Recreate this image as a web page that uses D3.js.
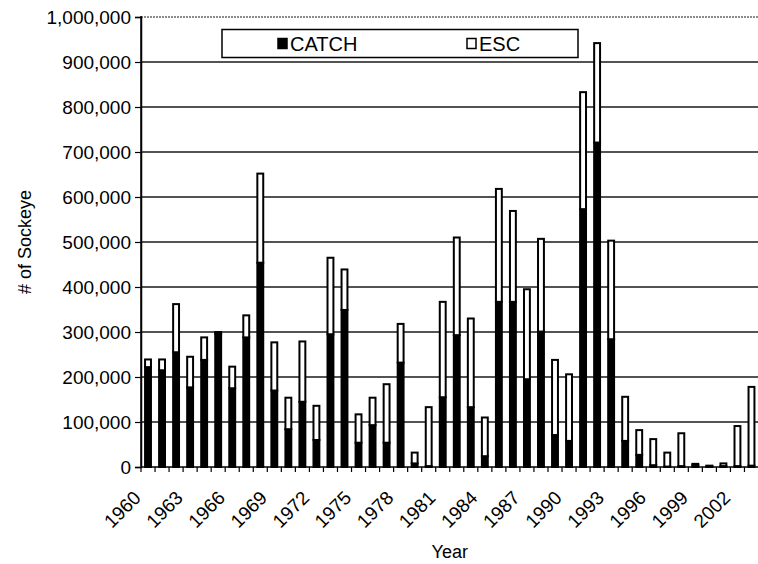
<!DOCTYPE html>
<html>
<head>
<meta charset="utf-8">
<script src="https://cdn.jsdelivr.net/npm/d3@7"></script>
<style>
  html, body { margin: 0; padding: 0; background: #fff; }
  svg { display: block; }
  text { font-family: "Liberation Sans", Arial, Helvetica, sans-serif; fill: #000; }
</style>
</head>
<body>
<svg id="chart" width="758" height="564"></svg>
<script>
// ---- Data ----
const years = d3.range(1960, 2004);
const catchVals = [
  222000, 215000, 255000, 177000, 238000, 296000, 175000, 288000, 454000, 170000,
   84000, 145000,  60000, 295000, 349000,  54000,  93000,  54000, 232000,   8000,
    2000, 155000, 293000, 133000,  24000, 367000, 367000, 195000, 301000,  71000,
   58000, 573000, 721000, 284000,  58000,  27000,   4000,   1000,   2000,   4000,
    2000,   2000,   2000,   3000
];
const escVals = [
   17000,  24000, 107000,  68000,  50000,   4000,  48000,  49000, 198000, 107000,
   70000, 134000,  76000, 170000,  90000,  63000,  61000, 130000,  86000,  24000,
  131000, 212000, 217000, 197000,  86000, 251000, 202000, 200000, 206000, 167000,
  148000, 260000, 221000, 219000,  98000,  55000,  58000,  31000,  73000,   3000,
    1000,   6000,  89000, 175000
];
const seriesNames = ["CATCH", "ESC"];
const yTickValues = [0, 100000, 200000, 300000, 400000, 500000, 600000, 700000, 800000, 900000, 1000000];
const xLabelYears = years.filter(y => (y - 1960) % 3 === 0);

// ---- Layout ----
const svg = d3.select("#chart");
const plot = { left: 141, right: 758.5, top: 17, bottom: 467 };

const x = d3.scaleBand().domain(years).range([plot.left, plot.right]).paddingInner(0.58).paddingOuter(0.29);
const xStep = d3.scaleBand().domain(years).range([plot.left, plot.right]);
const y = d3.scaleLinear().domain([0, 1000000]).range([plot.bottom, plot.top]);

const rows = years.map((yr, i) => ({ year: yr, CATCH: catchVals[i], ESC: escVals[i] }));
const stacked = d3.stack().keys(seriesNames)(rows);

// gridlines
svg.append("g")
  .selectAll("line")
  .data(yTickValues.filter(v => v > 0))
  .join("line")
  .attr("x1", plot.left).attr("x2", plot.right)
  .attr("y1", d => y(d)).attr("y2", d => y(d))
  .attr("stroke", "#1a1a1a")
  .attr("stroke-width", d => d === 1000000 ? 1.2 : 1.3)
  .attr("stroke-dasharray", d => d === 1000000 ? "2,1" : null);

// bars
const fills = { CATCH: "#000", ESC: "#fff" };
svg.append("g")
  .selectAll("g")
  .data(stacked)
  .join("g")
  .attr("fill", d => fills[d.key])
  .selectAll("rect")
  .data(d => d.map(p => ({ p, key: d.key })))
  .join("rect")
  .attr("x", d => x(d.p.data.year))
  .attr("width", x.bandwidth())
  .attr("y", d => y(d.p[1]))
  .attr("height", d => Math.max(0, y(d.p[0]) - y(d.p[1])))
  .attr("stroke", "#000")
  .attr("stroke-width", 2);

// y axis
const yAxis = svg.append("g")
  .attr("transform", `translate(${plot.left},0)`)
  .call(d3.axisLeft(y).tickValues(yTickValues).tickFormat(d3.format(",")).tickSize(6).tickPadding(4));
yAxis.select(".domain").attr("stroke", "#000").attr("stroke-width", 1.5);
yAxis.selectAll(".tick line").attr("stroke", "#000").attr("stroke-width", 1.2);
yAxis.selectAll(".tick text").style("font-size", "19px").attr("fill", "#000");

// x axis
const xAxisG = svg.append("g").attr("transform", `translate(0,${plot.bottom})`);
xAxisG.append("line")
  .attr("x1", plot.left).attr("x2", plot.right)
  .attr("y1", 0).attr("y2", 0)
  .attr("stroke", "#000").attr("stroke-width", 1.5);
xAxisG.selectAll("line.tk")
  .data(years)
  .join("line")
  .attr("class", "tk")
  .attr("x1", d => xStep(d)).attr("x2", d => xStep(d))
  .attr("y1", 0).attr("y2", 5)
  .attr("stroke", "#000").attr("stroke-width", 1.2);
xAxisG.selectAll("text")
  .data(xLabelYears)
  .join("text")
  .attr("transform", d => `translate(${xStep(d) + 1},${32}) rotate(-45)`)
  .attr("text-anchor", "end")
  .style("font-size", "19px")
  .text(d => d);

// left frame
svg.append("line")
  .attr("x1", plot.left).attr("x2", plot.left)
  .attr("y1", plot.top - 1).attr("y2", plot.bottom)
  .attr("stroke", "#000").attr("stroke-width", 1.5);

// axis titles
svg.append("text")
  .attr("x", (plot.left + plot.right) / 2)
  .attr("y", 558)
  .attr("text-anchor", "middle")
  .style("font-size", "18px")
  .text("Year");
svg.append("text")
  .attr("transform", `translate(31,${(plot.top + plot.bottom) / 2}) rotate(-90)`)
  .attr("text-anchor", "middle")
  .style("font-size", "18px")
  .text("# of Sockeye");

// legend
const lg = svg.append("g");
lg.append("rect")
  .attr("x", 222).attr("y", 29.5).attr("width", 356).attr("height", 28)
  .attr("fill", "#fff").attr("stroke", "#000").attr("stroke-width", 1.5);
const legendItems = [
  { key: "CATCH", sx: 278, tx: 290 },
  { key: "ESC", sx: 467, tx: 479 }
];
legendItems.forEach(it => {
  lg.append("rect")
    .attr("x", it.sx).attr("y", 38.5).attr("width", 9).attr("height", 10)
    .attr("fill", fills[it.key]).attr("stroke", "#000").attr("stroke-width", 1.5);
  lg.append("text")
    .attr("x", it.tx).attr("y", 50.5)
    .style("font-size", "20px")
    .text(it.key);
});
</script>
</body>
</html>
